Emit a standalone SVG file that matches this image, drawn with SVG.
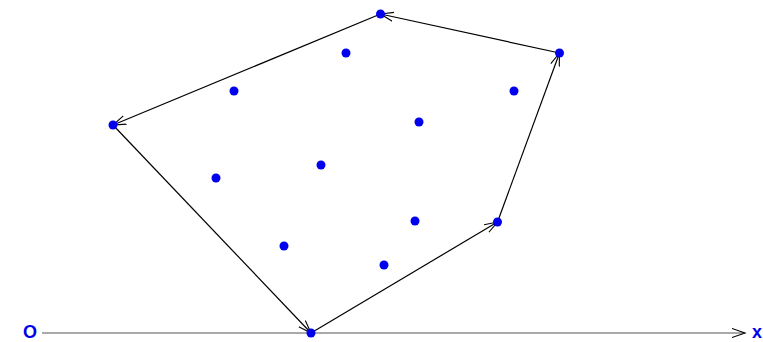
<svg xmlns="http://www.w3.org/2000/svg" width="763" height="342" viewBox="0 0 763 342">
<style>
.edge{stroke:#000;stroke-width:1.2;fill:none;marker-end:url(#arr)}
.axis{stroke:#555;stroke-width:1.2;fill:none;marker-end:url(#arr)}
.pt{fill:#0000ee}
.lbl{font-family:"Liberation Sans",Arial,sans-serif;font-weight:bold;font-size:18px;fill:#0000ee}
</style>
<defs>
<marker id="arr" markerUnits="userSpaceOnUse" markerWidth="16" markerHeight="12" refX="13" refY="5" orient="auto" viewBox="0 0 16 12">
<path d="M0,0.5 L13,5 L0,9.5" fill="none" stroke="#000" stroke-width="1.1"/>
</marker>
</defs>
<rect width="763" height="342" fill="#fff"/>
<g id="connectors">
<line class="axis" x1="42" y1="333" x2="745" y2="333"/>
<line class="edge" x1="311" y1="333" x2="497.5" y2="222"/>
<line class="edge" x1="497.5" y1="222" x2="559.5" y2="53"/>
<line class="edge" x1="559.5" y1="53" x2="380.5" y2="14"/>
<line class="edge" x1="380.5" y1="14" x2="113" y2="125"/>
<line class="edge" x1="113" y1="125" x2="311" y2="333"/>
</g>
<g id="labels">
<text class="lbl" x="30" y="338" text-anchor="middle">O</text>
<text class="lbl" x="757" y="338" text-anchor="middle">x</text>
</g>
<g id="points">
<circle class="pt" cx="380.5" cy="14" r="4.5"/>
<circle class="pt" cx="559.5" cy="53" r="4.5"/>
<circle class="pt" cx="113" cy="125" r="4.5"/>
<circle class="pt" cx="311" cy="333" r="4.5"/>
<circle class="pt" cx="497.5" cy="222" r="4.5"/>
<circle class="pt" cx="346" cy="53" r="4.5"/>
<circle class="pt" cx="234" cy="91" r="4.5"/>
<circle class="pt" cx="514" cy="91" r="4.5"/>
<circle class="pt" cx="419" cy="122" r="4.5"/>
<circle class="pt" cx="321" cy="165" r="4.5"/>
<circle class="pt" cx="216" cy="178" r="4.5"/>
<circle class="pt" cx="415" cy="221" r="4.5"/>
<circle class="pt" cx="284" cy="246" r="4.5"/>
<circle class="pt" cx="384" cy="265" r="4.5"/>
</g>
</svg>
